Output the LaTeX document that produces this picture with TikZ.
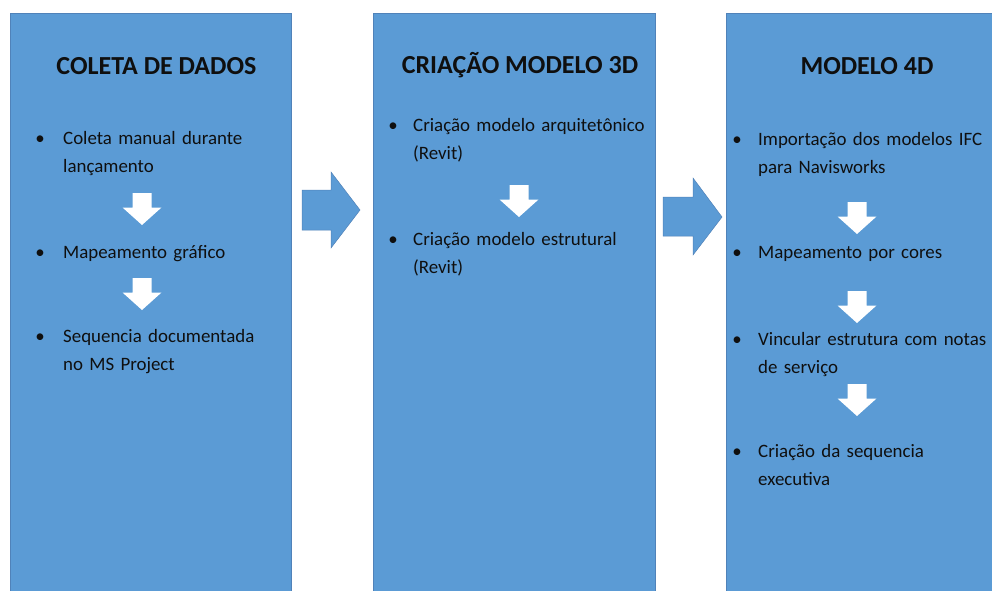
\documentclass[tikz,border=0pt]{standalone}
\usepackage{fontspec}
\setmainfont{Carlito}
\definecolor{colblue}{RGB}{91,155,213}
\definecolor{colline}{RGB}{80,130,185}
\definecolor{txt}{RGB}{15,15,15}
\begin{document}
\begin{tikzpicture}[x=1pt,y=-1pt,
  col/.style={fill=colblue, draw=colline, line width=0.5pt},
  ttl/.style={font=\fontsize{26}{30}\selectfont\bfseries, text=txt, anchor=base, inner sep=0},
  itm/.style={font=\fontsize{18.9}{28}\selectfont, text=txt, anchor=base west, inner sep=0, align=left, text width=300pt},
  bul/.style={font=\fontsize{18.9}{28}\selectfont, text=txt, anchor=base, inner sep=0},
  bigarrow/.style={fill=colblue, draw=colline, line width=0.5pt},
  downarr/.pic={\fill[white] (-9.5,0) -- (9.5,0) -- (9.5,14.5) -- (19.5,14.5) -- (0,32) -- (-19.5,14.5) -- (-9.5,14.5) -- cycle;}
]
\useasboundingbox (0,0) rectangle (992,590);
\fill[white] (0,0) rectangle (992,590);
% columns
\draw[col] (10,13) rectangle (291,600);
\draw[col] (373,13) rectangle (655,600);
\draw[col] (726,13) rectangle (1000,600);
% big arrows
\draw[bigarrow] (302,190) -- (331,190) -- (331,172) -- (360,210) -- (331,248) -- (331,230) -- (302,230) -- cycle;
\draw[bigarrow] (663,197) -- (693,197) -- (693,178) -- (722,217) -- (693,255) -- (693,236) -- (663,236) -- cycle;
% titles
\node[ttl] (t1) at (156.5,74) {COLETA DE DADOS};
\node[ttl] (t2) at (520,73) {CRIAÇÃO MODELO 3D};
\node[ttl] (t3) at (867,74) {MODELO 4D};
% column 1
\node[bul] (b11) at (40,144) {•};
\node[itm] (i11) at (63,144) {Coleta manual durante\\lançamento};
\node[bul] (b12) at (40,258) {•};
\node[itm] (i12) at (63,258) {Mapeamento gráfico};
\node[bul] (b13) at (40,342) {•};
\node[itm] (i13) at (63,342) {Sequencia documentada\\no MS Project};
\pic at (142,193) {downarr};
\pic at (142,278) {downarr};
% column 2
\node[bul] (b21) at (393,131) {•};
\node[itm] (i21) at (413,131) {Criação modelo arquitetônico\\(Revit)};
\node[bul] (b22) at (393,245) {•};
\node[itm] (i22) at (413,245) {Criação modelo estrutural\\(Revit)};
\pic at (519,185) {downarr};
% column 3
\node[bul] (b31) at (737,145) {•};
\node[itm] (i31) at (758,145) {Importação dos modelos IFC\\para Navisworks};
\node[bul] (b32) at (737,258) {•};
\node[itm] (i32) at (758,258) {Mapeamento por cores};
\node[bul] (b33) at (737,345) {•};
\node[itm] (i33) at (758,345) {Vincular estrutura com notas\\de serviço};
\node[bul] (b34) at (737,457) {•};
\node[itm] (i34) at (758,457) {Criação da sequencia\\executiva};
\pic at (857,202) {downarr};
\pic at (857,291) {downarr};
\pic at (857,384) {downarr};
\end{tikzpicture}
\end{document}
